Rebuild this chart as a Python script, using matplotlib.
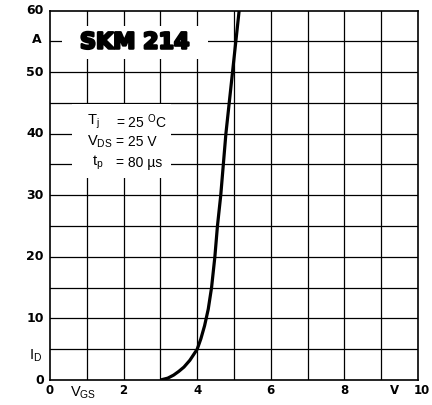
import matplotlib
matplotlib.use('Agg')
import matplotlib.pyplot as plt
import matplotlib.patheffects as pe
from matplotlib.patches import Rectangle

plt.rcParams['font.family'] = ['Liberation Sans', 'DejaVu Sans']
plt.rcParams['mathtext.fontset'] = 'custom'
plt.rcParams['mathtext.rm'] = 'Liberation Sans'
plt.rcParams['mathtext.it'] = 'Liberation Sans:italic'
plt.rcParams['mathtext.bf'] = 'Liberation Sans:bold'

# ---------- data ----------
v_gs = [3.0, 3.2, 3.36, 3.5, 3.64, 3.8, 4.0, 4.1, 4.2, 4.3, 4.39, 4.48, 4.55, 4.64, 4.78, 4.96, 5.14]
i_d = [0.0, 0.3, 0.8, 1.4, 2.1, 3.2, 5.0, 6.7, 8.8, 11.5, 15.0, 20.0, 25.0, 30.0, 40.0, 50.0, 60.0]

x_ticks = [0, 2, 4, 6, 8, 10]
y_ticks = [0, 10, 20, 30, 40, 50, 60]
x_grid = list(range(1, 10))
y_grid = list(range(5, 60, 5))

title = 'SKM 214'
cond_left = ['T$_\\mathrm{j}$', 'V$_\\mathrm{DS}$', 't$_\\mathrm{p}$']
cond_right = ['= 25 $^\\mathrm{O}$C', '= 25 V', '= 80 \u00b5s']

# ---------- figure ----------
fig = plt.figure(figsize=(4.32, 4.05), dpi=100)
ax = fig.add_axes([50 / 432, 1 - 380 / 405, 368 / 432, 369.5 / 405])
ax.set_xlim(0, 10)
ax.set_ylim(0, 60)
ax.set_xticks([])
ax.set_yticks([])
for s in ax.spines.values():
    s.set_linewidth(1.2)
    s.set_color('black')

# grid
for x in x_grid:
    ax.axvline(x, color='black', lw=0.9, zorder=1)
for y in y_grid:
    ax.axhline(y, color='black', lw=0.9, zorder=1)

# white boxes behind the texts (grid is broken there)
ax.add_patch(Rectangle((0.33, 52.2), 3.97, 5.3, fc='white', ec='none', zorder=2))
ax.add_patch(Rectangle((0.6, 32.8), 2.7, 12.0, fc='white', ec='none', zorder=2))

# curve
ax.plot(v_gs, i_d, color='black', lw=2.3, solid_capstyle='butt', zorder=4)

# title block
ax.text(2.3, 54.8, title, ha='center', va='center', fontsize=16, fontweight='bold',
        family='DejaVu Sans', zorder=3,
        path_effects=[pe.withStroke(linewidth=1.8, foreground='black')])

# conditions block
rows_y = [42.0, 38.6, 35.2]
left_x = [1.0, 1.0, 1.15]
for lx, y, l, r in zip(left_x, rows_y, cond_left, cond_right):
    ax.text(lx, y, l, ha='left', va='center', fontsize=10.5, zorder=3)
    ax.text(1.8, y, r, ha='left', va='center', fontsize=10, zorder=3)

# tick labels
for y in y_ticks:
    ax.text(-0.17, y, str(y), ha='right', va='center', fontsize=9,
            fontweight='bold', family='DejaVu Sans', clip_on=False)
for x in x_ticks:
    ax.text(x + (0.1 if x == 10 else 0), -1.7, str(x), ha='center', va='center', fontsize=8.5,
            fontweight='bold', family='DejaVu Sans', clip_on=False)

# axis unit / name labels
ax.text(-0.36, 55.3, 'A', ha='center', va='center', fontsize=9,
        fontweight='bold', family='DejaVu Sans', clip_on=False)
ax.text(-0.4, 4.0, 'I$_\\mathrm{D}$', ha='center', va='center', fontsize=10.5, clip_on=False)
ax.text(9.37, -1.7, 'V', ha='center', va='center', fontsize=8.5,
        fontweight='bold', family='DejaVu Sans', clip_on=False)
ax.text(0.9, -2.1, 'V$_\\mathrm{GS}$', ha='center', va='center', fontsize=10.5, clip_on=False)

fig.savefig('out.png', dpi=100)
